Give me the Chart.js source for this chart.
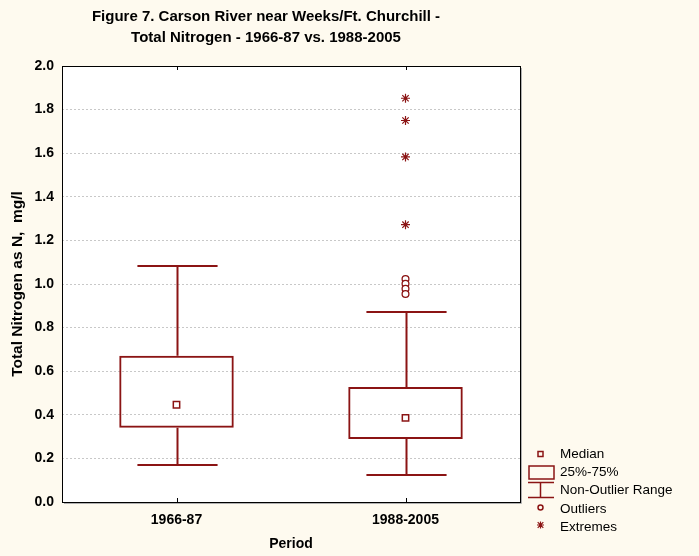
<!DOCTYPE html>
<html>
<head>
<meta charset="utf-8">
<script src="https://cdn.jsdelivr.net/npm/chart.js@4.4.1/dist/chart.umd.min.js"></script>
<style>
  html, body { margin: 0; padding: 0; background: #fefaef; }
  #wrap { width: 699px; height: 556px; }
</style>
</head>
<body>
<div id="wrap"><canvas id="c" width="699" height="556"></canvas></div>
<script>
// 데이터
const periods = ['1966-87', '1988-2005'];
const q1 = [0.341, 0.289];
const q3 = [0.671, 0.527];
const medians = [0.446, 0.386];
const whiskerLow = [0.170, 0.124];
const whiskerHigh = [1.083, 0.871];
const outlierPeriod = ['1988-2005', '1988-2005', '1988-2005', '1988-2005'];
const outlierValues = [1.023, 1.001, 0.978, 0.954];
const extremePeriod = ['1988-2005', '1988-2005', '1988-2005', '1988-2005'];
const extremeValues = [1.852, 1.750, 1.583, 1.272];
const yTicks = [0, 0.2, 0.4, 0.6, 0.8, 1.0, 1.2, 1.4, 1.6, 1.8, 2.0];

const RED = '#8b1414';
const FONT = 'Liberation Sans, Arial, sans-serif';

// 배경, 테두리, 수염, 제목, 범례
const boxPlugin = {
    id: 'boxExtras',
    beforeDraw(chart) {
        const {ctx, chartArea: a} = chart;
        ctx.save();
        ctx.fillStyle = '#fefaef';
        ctx.fillRect(0, 0, chart.width, chart.height);
        ctx.fillStyle = '#ffffff';
        ctx.fillRect(a.left, a.top, a.right - a.left, a.bottom - a.top);
        ctx.restore();
    },
    beforeDatasetsDraw(chart) {
        const {ctx} = chart;
        const x = chart.scales.x, y = chart.scales.y;
        const catW = x.getPixelForTick(1) - x.getPixelForTick(0);
        const capHalf = catW * 0.175;
        ctx.save();
        ctx.strokeStyle = RED;
        ctx.lineWidth = 2;
        periods.forEach((p, i) => {
            const cx = Math.round(x.getPixelForValue(i)) + 0.5;
            const yHi = y.getPixelForValue(whiskerHigh[i]);
            const yLo = y.getPixelForValue(whiskerLow[i]);
            ctx.beginPath();
            ctx.moveTo(cx, y.getPixelForValue(q3[i]));
            ctx.lineTo(cx, yHi);
            ctx.moveTo(cx - capHalf, yHi);
            ctx.lineTo(cx + capHalf, yHi);
            ctx.moveTo(cx, y.getPixelForValue(q1[i]));
            ctx.lineTo(cx, yLo);
            ctx.moveTo(cx - capHalf, yLo);
            ctx.lineTo(cx + capHalf, yLo);
            ctx.stroke();
        });
        ctx.restore();
    },
    afterDraw(chart) {
        const {ctx, chartArea: a} = chart;
        const x = chart.scales.x;
        ctx.save();
        // 그림자 + 테두리
        ctx.strokeStyle = '#b0b0b0';
        ctx.lineWidth = 1;
        ctx.beginPath();
        ctx.moveTo(a.right + 1.5, a.top + 2);
        ctx.lineTo(a.right + 1.5, a.bottom + 1.5);
        ctx.lineTo(a.left + 2, a.bottom + 1.5);
        ctx.stroke();
        ctx.strokeStyle = '#000000';
        ctx.strokeRect(a.left + 0.5, a.top + 0.5, a.right - a.left, a.bottom - a.top);
        // 안쪽 눈금
        ctx.beginPath();
        periods.forEach((p, i) => {
            const px = Math.round(x.getPixelForTick(i)) + 0.5;
            ctx.moveTo(px, a.bottom);
            ctx.lineTo(px, a.bottom - 4);
            ctx.moveTo(px, a.top);
            ctx.lineTo(px, a.top + 4);
        });
        ctx.stroke();

        // 제목
        ctx.fillStyle = '#000';
        ctx.font = 'bold 15px ' + FONT;
        ctx.textAlign = 'center';
        ctx.textBaseline = 'middle';
        ctx.fillText('Figure 7. Carson River near Weeks/Ft. Churchill -', 266, 17);
        ctx.fillText('Total Nitrogen - 1966-87 vs. 1988-2005', 266, 38);

        // 범례
        const lx = 540.5, tx = 560;
        ctx.strokeStyle = RED;
        ctx.lineWidth = 1.5;
        ctx.strokeRect(lx - 2.5, 451.5, 5, 5);
        ctx.strokeRect(529, 466, 25, 13);
        ctx.beginPath();
        ctx.moveTo(528, 482.5); ctx.lineTo(554, 482.5);
        ctx.moveTo(lx, 482.5); ctx.lineTo(lx, 497.5);
        ctx.moveTo(528, 497.5); ctx.lineTo(554, 497.5);
        ctx.stroke();
        ctx.beginPath();
        ctx.arc(lx, 507.5, 2.5, 0, Math.PI * 2);
        ctx.stroke();
        ctx.lineWidth = 1.2;
        ctx.beginPath();
        ctx.moveTo(lx - 3.5, 525); ctx.lineTo(lx + 3.5, 525);
        ctx.moveTo(lx, 521.5); ctx.lineTo(lx, 528.5);
        ctx.moveTo(lx - 2.8, 522.2); ctx.lineTo(lx + 2.8, 527.8);
        ctx.moveTo(lx + 2.8, 522.2); ctx.lineTo(lx - 2.8, 527.8);
        ctx.stroke();

        ctx.fillStyle = '#000';
        ctx.font = '13.5px ' + FONT;
        ctx.textAlign = 'left';
        ['Median', '25%-75%', 'Non-Outlier Range', 'Outliers', 'Extremes'].forEach((t, i) => {
            ctx.fillText(t, tx, [454, 472, 490, 509, 527][i]);
        });
        ctx.restore();
    }
};

const ctx = document.getElementById('c').getContext('2d');
new Chart(ctx, {
    type: 'bar',
    data: {
        labels: periods,
        datasets: [
            {
                type: 'line',
                label: 'Median',
                data: periods.map((p, i) => ({x: p, y: medians[i]})),
                showLine: false,
                pointStyle: 'rect',
                pointRadius: 4.5,
                borderColor: RED,
                backgroundColor: '#ffffff',
                borderWidth: 1.5,
                order: 1
            },
            {
                type: 'line',
                label: 'Outliers',
                data: outlierValues.map((v, i) => ({x: outlierPeriod[i], y: v})),
                showLine: false,
                pointStyle: 'circle',
                pointRadius: 3.4,
                borderColor: RED,
                backgroundColor: '#ffffff',
                borderWidth: 1.3,
                order: 1
            },
            {
                type: 'line',
                label: 'Extremes',
                data: extremeValues.map((v, i) => ({x: extremePeriod[i], y: v})),
                showLine: false,
                pointStyle: 'star',
                pointRadius: 4.5,
                borderColor: RED,
                backgroundColor: RED,
                borderWidth: 1.2,
                order: 1
            },
            {
                label: '25%-75%',
                data: periods.map((p, i) => [q1[i], q3[i]]),
                backgroundColor: 'rgba(0,0,0,0)',
                borderColor: RED,
                borderWidth: 2,
                borderSkipped: false,
                barPercentage: 0.5,
                categoryPercentage: 1.0,
                order: 2
            }
        ]
    },
    options: {
        responsive: false,
        animation: false,
        layout: {
            padding: {left: 0, top: 66, right: 179, bottom: 0}
        },
        plugins: {
            legend: {display: false},
            tooltip: {enabled: false}
        },
        scales: {
            x: {
                grid: {display: false, drawTicks: false},
                border: {display: false},
                ticks: {
                    color: '#000',
                    padding: 10,
                    font: {family: FONT, size: 14, weight: 'bold'}
                },
                title: {
                    display: true,
                    text: 'Period',
                    color: '#000',
                    padding: {top: 0, bottom: 3},
                    font: {family: FONT, size: 14, weight: 'bold'}
                },
                afterFit(scale) { scale.height = 54; }
            },
            y: {
                min: 0,
                max: 2.0,
                afterBuildTicks(scale) {
                    scale.ticks = yTicks.map(v => ({value: v}));
                },
                grid: {
                    color: '#c8c8c8',
                    drawTicks: false,
                    lineWidth: 1
                },
                border: {display: false, dash: [2, 2]},
                ticks: {
                    color: '#000',
                    padding: 8,
                    font: {family: FONT, size: 14, weight: 'bold'},
                    callback: v => v.toFixed(1)
                },
                title: {
                    display: true,
                    text: 'Total Nitrogen as N,  mg/l',
                    color: '#000',
                    padding: {top: 8, bottom: 0},
                    font: {family: FONT, size: 15.5, weight: 'bold'}
                },
                afterFit(scale) { scale.width = 62; }
            }
        }
    },
    plugins: [boxPlugin]
});
</script>
</body>
</html>
